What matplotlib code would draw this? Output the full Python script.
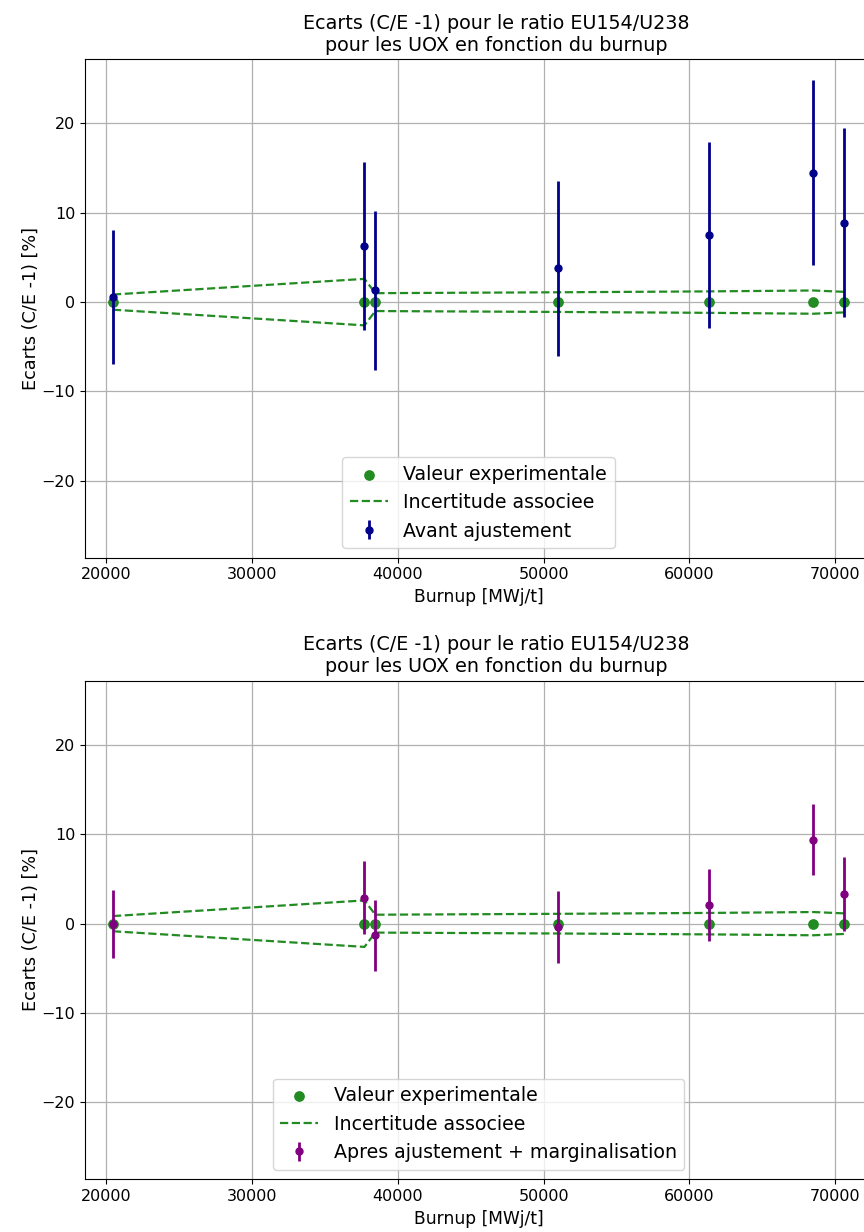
import numpy as np
import matplotlib
matplotlib.use('Agg')
import matplotlib.pyplot as plt

# Burnup of each measured sample [MWj/t]
burnup = [20450, 37700, 38450, 50950, 61330, 68500, 70620]

# Experimental reference (C/E - 1 = 0) and its uncertainty [%]
exp_value = [0, 0, 0, 0, 0, 0, 0]
exp_unc = [0.85, 2.6, 1.0, 1.1, 1.2, 1.3, 1.15]

# Before adjustment
avant = [0.6, 6.3, 1.3, 3.8, 7.5, 14.5, 8.9]
avant_err = [7.5, 9.4, 8.9, 9.8, 10.4, 10.3, 10.6]

# After adjustment + marginalisation
apres = [0.0, 2.9, -1.3, -0.4, 2.1, 9.4, 3.3]
apres_err = [3.8, 4.1, 4.0, 4.0, 4.0, 4.0, 4.15]

title = 'Ecarts (C/E -1) pour le ratio EU154/U238\npour les UOX en fonction du burnup'

fig = plt.figure(figsize=(8.64, 12.32), dpi=100)
ax1 = fig.add_axes([0.0984, 0.5473, 0.911, 0.4048])
ax2 = fig.add_axes([0.0984, 0.0428, 0.911, 0.4048])

panels = [(ax1, avant, avant_err, 'darkblue', 'Avant ajustement'),
          (ax2, apres, apres_err, 'purple', 'Apres ajustement + marginalisation')]

for ax, vals, errs, col, lab in panels:
    ax.scatter(burnup, exp_value, color='forestgreen', s=45, zorder=3,
               label='Valeur experimentale')
    upper = np.array(exp_value) + np.array(exp_unc)
    lower = np.array(exp_value) - np.array(exp_unc)
    ax.plot(burnup, upper, '--', color='forestgreen', lw=1.6, label='Incertitude associee')
    ax.plot(burnup, lower, '--', color='forestgreen', lw=1.6)
    ax.errorbar(burnup, vals, yerr=errs, fmt='o', color=col, ms=5,
                elinewidth=2, capsize=0, label=lab, zorder=4)
    ax.set_xlim(18530, 72530)
    ax.set_ylim(-28.6, 27.2)
    ax.set_xticks([20000, 30000, 40000, 50000, 60000, 70000])
    ax.set_yticks([-20, -10, 0, 10, 20])
    ax.grid(True, color='#b0b0b0', lw=0.9)
    ax.set_axisbelow(True)
    ax.set_xlabel('Burnup [MWj/t]', fontsize=12.3)
    ax.set_ylabel('Ecarts (C/E -1) [%]', fontsize=12.7, labelpad=1)
    ax.set_title(title, fontsize=13.8, x=0.522)
    ax.tick_params(labelsize=11.5)
    ax.legend(loc='lower center', fontsize=13.7, framealpha=0.8)

fig.savefig('out.png', dpi=100)
